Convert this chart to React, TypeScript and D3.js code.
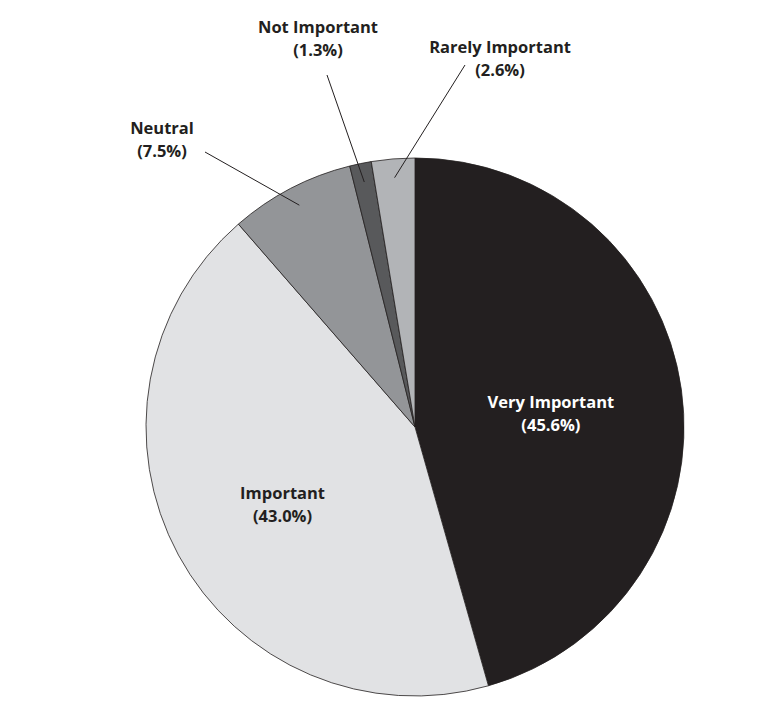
import React, { useEffect, useRef } from 'react';
import * as d3 from 'd3';

// Survey shares, clockwise from 12 o'clock
const categories = ['Very Important', 'Important', 'Neutral', 'Not Important', 'Rarely Important'];
const shares = [45.6, 43.0, 7.5, 1.3, 2.6];
const sliceColors = ['#231f20', '#e1e2e4', '#939598', '#58595b', '#b2b4b7'];

// Labels that sit outside the pie get a leader line
const outsideLabels = ['Neutral', 'Not Important', 'Rarely Important'];
// label anchor offsets from pie centre (x, y) for outside labels
const labelOffsets: Record<string, [number, number]> = {
  Neutral: [-253, -293],
  'Not Important': [-97, -394],
  'Rarely Important': [85, -374],
};
const lineEnds: Record<string, [number, number]> = {
  Neutral: [-210, -275],
  'Not Important': [-88, -352],
  'Rarely Important': [50, -362],
};
// fraction of the radius where the inside labels sit
const insideLabelRadius: Record<string, number> = {
  'Very Important': 0.51,
  Important: 0.56,
};

const PieChart = () => {
  const chartRef = useRef<SVGSVGElement | null>(null);

  useEffect(() => {
    if (!chartRef.current) return;
    const svgSel = d3.select(chartRef.current);
    svgSel.selectAll('*').remove();

    const width = 781;
    const height = 718;
    const cx = 415;
    const cy = 427;
    const radius = 269;

    const data = categories.map((c, i) => ({ name: c, value: shares[i], color: sliceColors[i] }));

    const pie = d3
      .pie<any>()
      .sort(null)
      .value((d) => d.value);
    const arcs = pie(data);

    const arc = d3.arc<any>().innerRadius(0).outerRadius(radius);
    const innerArc = d3.arc<any>().innerRadius(radius * 0.93).outerRadius(radius * 0.93);

    svgSel.append('rect').attr('width', width).attr('height', height).attr('fill', '#ffffff');

    const g = svgSel.append('g').attr('transform', `translate(${cx},${cy})`);

    g.selectAll('.slice')
      .data(arcs)
      .enter()
      .append('path')
      .attr('class', 'slice')
      .attr('d', arc)
      .attr('fill', (d) => d.data.color)
      .attr('stroke', '#231f20')
      .attr('stroke-width', 0.8);

    // leader lines
    g.selectAll('.leader')
      .data(arcs.filter((d) => outsideLabels.includes(d.data.name)))
      .enter()
      .append('line')
      .attr('class', 'leader')
      .attr('x1', (d) => innerArc.centroid(d)[0])
      .attr('y1', (d) => innerArc.centroid(d)[1])
      .attr('x2', (d) => lineEnds[d.data.name][0])
      .attr('y2', (d) => lineEnds[d.data.name][1])
      .attr('stroke', '#231f20')
      .attr('stroke-width', 1);

    const labels = g
      .selectAll('.label')
      .data(arcs)
      .enter()
      .append('text')
      .attr('class', 'label')
      .attr('text-anchor', 'middle')
      .style('font-family', '"Open Sans", sans-serif')
      .style('font-size', '16.5px')
      .style('font-weight', 'bold')
      .attr('fill', (d) => (d.data.name === 'Very Important' ? '#ffffff' : '#231f20'))
      .attr('transform', (d) => {
        let p: [number, number];
        if (outsideLabels.includes(d.data.name)) {
          p = labelOffsets[d.data.name];
        } else {
          const r = radius * insideLabelRadius[d.data.name];
          p = d3.arc<any>().innerRadius(r).outerRadius(r).centroid(d) as [number, number];
        }
        return `translate(${p[0]},${p[1]})`;
      });

    labels
      .append('tspan')
      .attr('x', 0)
      .attr('dy', 0)
      .text((d) => d.data.name);
    labels
      .append('tspan')
      .attr('x', 0)
      .attr('dy', 23)
      .text((d) => `(${d.data.value.toFixed(1)}%)`);
  }, []);

  return <svg ref={chartRef} width={781} height={718} style={{ display: 'block' }} />;
};

export default function App() {
  return (
    <div style={{ margin: -8 }}>
      <PieChart />
    </div>
  );
}
